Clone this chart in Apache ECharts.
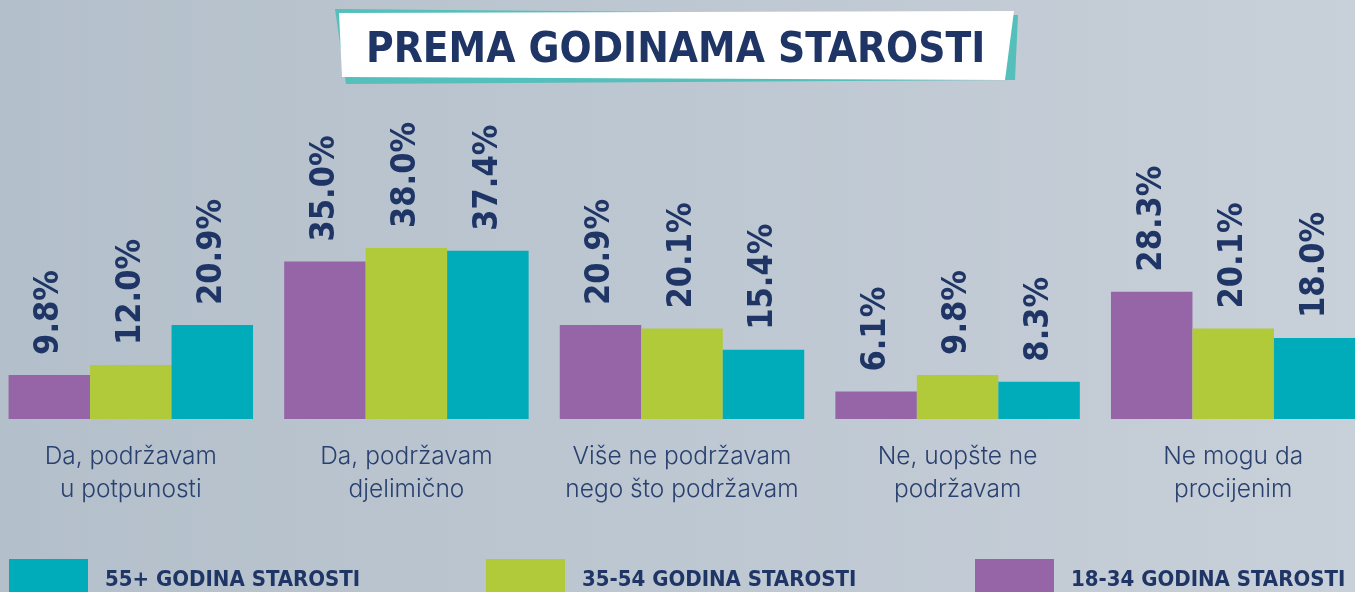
<!DOCTYPE html>
<html>
<head>
<meta charset="utf-8">
<script src="https://cdn.jsdelivr.net/npm/echarts@6/dist/echarts.min.js"></script>
<style>
  html, body { margin: 0; padding: 0; width: 1355px; height: 592px; overflow: hidden; position: relative; }
  /* sirina 1378 i pomak -7 da bi prva grupa pocela na x=9 kao u originalu */
  #chart { position: absolute; left: -7px; top: 0; width: 1378px; height: 592px; }
</style>
</head>
<body>
<div id="chart"></div>
<script>
// podaci
var categories = [
    'Da, podržavam\nu potpunosti',
    'Da, podržavam\ndjelimično',
    'Više ne podržavam\nnego što podržavam',
    'Ne, uopšte ne\npodržavam',
    'Ne mogu da\nprocijenim'
];
var age1834 = [9.8, 35.0, 20.9, 6.1, 28.3];
var age3554 = [12.0, 38.0, 20.1, 9.8, 20.1];
var age55 = [20.9, 37.4, 15.4, 8.3, 18.0];
var seriesNames = ['18-34 GODINA STAROSTI', '35-54 GODINA STAROSTI', '55+ GODINA STAROSTI'];
var titleText = 'PREMA GODINAMA STAROSTI';

var navy = '#1f3566';
var colors = ['#9565a8', '#b0ca3a', '#00acba'];
var numFont = '"Liberation Sans Narrow", "DejaVu Sans Condensed", "Roboto", sans-serif';
var dx = 7; // pomak kontejnera

var chart = echarts.init(document.getElementById('chart'));

function barSeries(name, data, color) {
    return {
        name: name,
        type: 'bar',
        data: data,
        barGap: 0,
        barCategoryGap: '11.3%',
        itemStyle: { color: color },
        label: {
            show: true,
            position: 'top',
            rotate: 90,
            align: 'left',
            verticalAlign: 'middle',
            distance: 20,
            formatter: function (p) { return p.value.toFixed(1) + '%'; },
            color: navy,
            fontFamily: numFont,
            fontWeight: 'bold',
            fontSize: 34
        }
    };
}

function legendAt(name, left) {
    return {
        data: [name],
        left: left + dx,
        top: 559,
        padding: 0,
        itemWidth: 79,
        itemHeight: 42,
        itemGap: 0,
        icon: 'rect',
        textStyle: {
            color: navy,
            fontFamily: numFont,
            fontWeight: 'bold',
            fontSize: 22,
            padding: [0, 0, 0, 12]
        }
    };
}

var option = {
    backgroundColor: new echarts.graphic.LinearGradient(0, 0, 1, 0, [
        { offset: 0, color: '#b3bfca' },
        { offset: 1, color: '#c8d0d9' }
    ]),
    animation: false,
    grid: { left: 0, right: 0, top: 239, bottom: 173 },
    xAxis: {
        type: 'category',
        data: categories,
        axisLine: { show: false },
        axisTick: { show: false },
        axisLabel: {
            margin: 21,
            fontFamily: 'Inter, Lato, sans-serif',
            fontWeight: 300,
            fontSize: 24.5,
            lineHeight: 33,
            color: '#2a4170',
            interval: 0
        }
    },
    yAxis: {
        type: 'value',
        min: 0,
        max: 40,
        show: false,
        splitLine: { show: false }
    },
    legend: [
        legendAt(seriesNames[2], 9),
        legendAt(seriesNames[1], 486),
        legendAt(seriesNames[0], 975)
    ],
    series: [
        barSeries(seriesNames[0], age1834, colors[0]),
        barSeries(seriesNames[1], age3554, colors[1]),
        barSeries(seriesNames[2], age55, colors[2])
    ],
    graphic: [
        {
            type: 'polygon',
            shape: { points: [[335 + dx, 9], [1018 + dx, 15], [1015 + dx, 80], [346 + dx, 84]] },
            style: { fill: '#55bfbc' }
        },
        {
            type: 'polygon',
            shape: { points: [[339 + dx, 13], [1014 + dx, 11], [1005 + dx, 80], [342 + dx, 77]] },
            style: { fill: '#ffffff' }
        },
        {
            type: 'text',
            left: 366 + dx,
            top: 30,
            style: {
                text: titleText,
                fill: navy,
                font: 'bold 42px ' + numFont
            }
        }
    ]
};

chart.setOption(option);
</script>
</body>
</html>
